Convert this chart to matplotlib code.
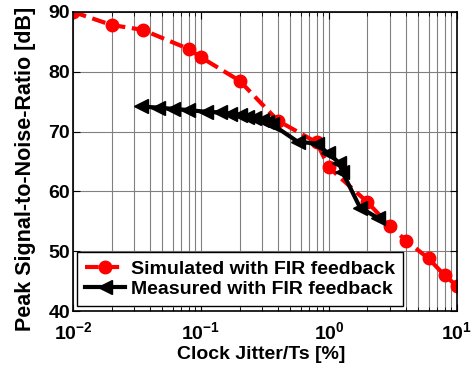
import matplotlib
matplotlib.use('Agg')
import matplotlib.pyplot as plt
from matplotlib.ticker import LogLocator, NullFormatter

plt.rcParams['font.family'] = ['Liberation Sans', 'DejaVu Sans']
plt.rcParams['font.weight'] = 'bold'

# Simulated PSNR vs clock jitter
sim_jitter = [0.01, 0.02, 0.035, 0.08, 0.1, 0.2, 0.4, 0.8, 1.0, 2.0, 3.0, 4.0, 6.0, 8.0, 10.0]
sim_psnr = [90.0, 87.8, 87.0, 83.8, 82.4, 78.5, 71.8, 68.2, 64.0, 58.2, 54.2, 51.8, 48.8, 46.0, 44.2]

# Measured PSNR vs clock jitter
meas_jitter = [0.034, 0.046, 0.06, 0.079, 0.11, 0.14, 0.17, 0.2, 0.23, 0.26, 0.3, 0.33, 0.36,
               0.57, 0.8, 0.98, 1.2, 1.27, 1.75, 2.4]
meas_psnr = [74.2, 74.0, 73.8, 73.6, 73.3, 73.2, 73.0, 72.8, 72.5, 72.3, 72.0, 71.6, 71.2,
             68.3, 68.0, 66.4, 64.8, 63.3, 57.3, 55.6]

fig = plt.figure(figsize=(4.74, 3.70), dpi=100)
ax = fig.add_axes([0.154, 0.159, 0.81, 0.809])

ax.plot(sim_jitter, sim_psnr, '--o', color='red', linewidth=3, markersize=9,
        dashes=(3.3, 1.6), label='Simulated with FIR feedback')
ax.plot(meas_jitter, meas_psnr, '-<', color='black', linewidth=3, markersize=10,
        label='Measured with FIR feedback')

ax.set_xscale('log')
ax.set_xlim(0.01, 10)
ax.set_ylim(40, 90)
ax.set_yticks([40, 50, 60, 70, 80, 90])
ax.xaxis.set_minor_locator(LogLocator(base=10, subs=range(2, 10)))
ax.xaxis.set_minor_formatter(NullFormatter())

ax.grid(True, which='major', color='#808080', linewidth=0.8)
ax.grid(True, which='minor', axis='x', color='#808080', linewidth=0.8)
ax.set_axisbelow(True)

ax.tick_params(which='both', direction='in', top=True, right=True, labelsize=14)
ax.tick_params(which='major', length=5)
ax.tick_params(which='minor', length=3)
ax.tick_params(axis='x', pad=7)
ax.tick_params(axis='y', pad=2)
for s in ax.spines.values():
    s.set_linewidth(1.2)

ax.set_xlabel('Clock Jitter/Ts [%]', fontsize=14, fontweight='bold')
ax.xaxis.set_label_coords(0.49, -0.115)
ax.set_ylabel('Peak Signal-to-Noise-Ratio [dB]', fontsize=15.5, fontweight='bold')
ax.yaxis.set_label_coords(-0.097, 0.475)

leg = ax.legend(loc='lower left', bbox_to_anchor=(0.01, 0.017), borderaxespad=0,
                fontsize=14, fancybox=False, framealpha=1, edgecolor='black',
                handlelength=2.1, handletextpad=0.3, borderpad=0.4, labelspacing=0.15)
leg.get_frame().set_linewidth(1.0)

fig.savefig('out.png', dpi=100)
